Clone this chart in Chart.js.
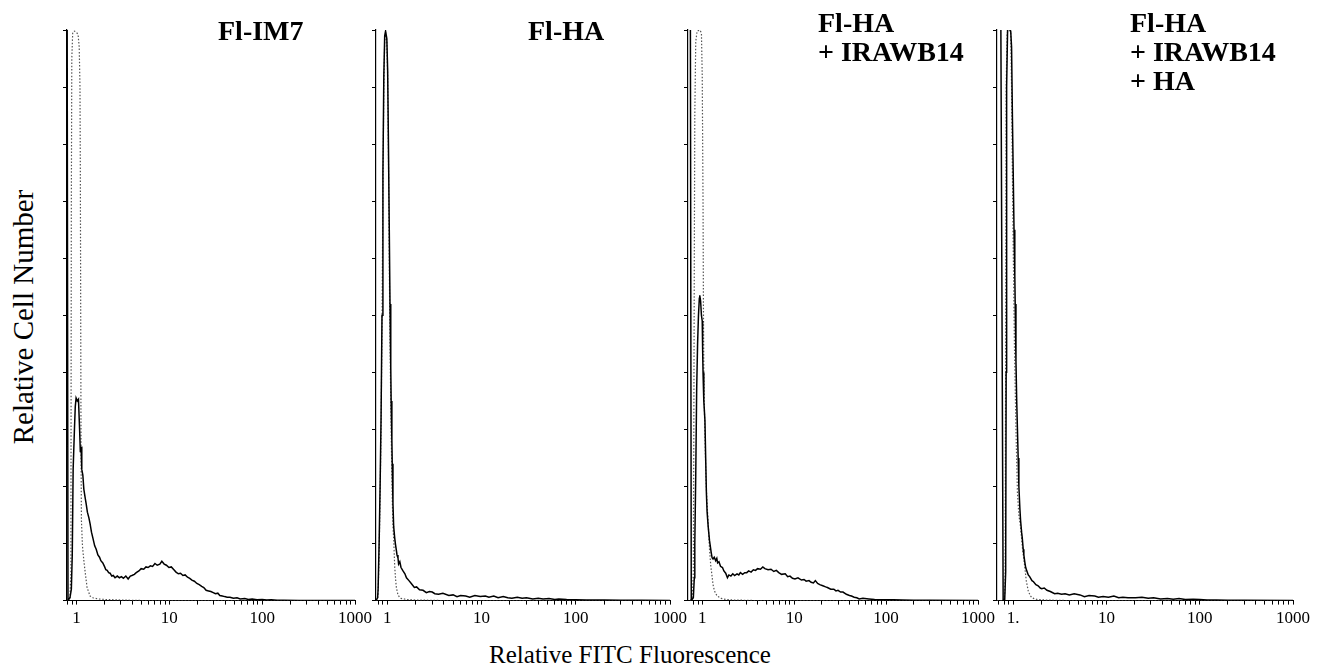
<!DOCTYPE html>
<html>
<head>
<meta charset="utf-8">
<script src="https://cdn.jsdelivr.net/npm/chart.js@4.4.1/dist/chart.umd.min.js"></script>
<style>
  body { margin: 0; background: #fff; }
  #wrap { position: relative; width: 1325px; height: 671px; overflow: hidden; background: #fff;
          font-family: "Liberation Serif", "Times New Roman", serif; color: #000; }
  #wrap canvas { position: absolute; top: 0; }
  .title { position: absolute; font-weight: bold; font-size: 28px; line-height: 29px; white-space: pre; }
  .axis-title { position: absolute; line-height: 30px; white-space: nowrap; text-align: center; }
</style>
</head>
<body>
<div id="wrap">
  <div class="axis-title" id="ytitle" style="left:-177px; top:302px; width:400px; font-size:29px; transform:rotate(-90deg);">Relative Cell Number</div>
  <div class="axis-title" id="xtitle" style="left:430px; top:640px; width:400px; font-size:25px;">Relative FITC Fluorescence</div>
</div>
<script>
// x-axis labels per panel (decades 1, 10, 100, 1000)
const decades = [1, 10, 100, 1000];
const tickLabels = [
  ['1', '10', '100', '1000'],
  ['1', '10', '100', '1000'],
  ['1', '10', '100', '1000'],
  ['1.', '10', '100', '1000']
];
const panelTitles = [
  ['Fl-IM7'],
  ['Fl-HA'],
  ['Fl-HA', '+ IRAWB14'],
  ['Fl-HA', '+ IRAWB14', '+ HA']
];

// histograms: [fluorescence, relative cell number]
const p1Solid = [[0.79,120],[0.81,0],[0.85,0.5],[0.88,2],[0.9,8],[0.92,23],[0.95,30],[0.97,34],[0.99,35.5],[1.02,35],[1.05,35.3],[1.08,30],[1.1,26],[1.12,27],[1.14,23],[1.17,22],[1.2,19.5],[1.24,18],[1.27,17],[1.31,15.5],[1.36,14.5],[1.4,13.5],[1.45,12],[1.5,11],[1.57,9.6],[1.63,9],[1.7,8],[1.77,7.6],[1.83,7],[1.92,6.6],[2.0,6],[2.07,5.4],[2.14,5.3],[2.22,4.9],[2.3,4.8],[2.4,4.3],[2.49,4.4],[2.6,4.0],[2.75,4.3],[2.9,4.0],[3.05,4.2],[3.2,3.9],[3.4,4.3],[3.6,3.8],[3.8,4.3],[3.95,4.4],[4.2,4.6],[4.4,4.9],[4.7,5.2],[4.97,5.6],[5.3,5.5],[5.6,5.9],[5.9,5.8],[6.25,6.1],[6.6,6.0],[7.0,6.5],[7.4,6.2],[7.9,6.4],[8.3,6.9],[8.8,6.4],[9.3,6.2],[9.9,5.8],[10.5,5.9],[11.2,5.4],[11.8,5.0],[12.5,4.7],[13.2,4.8],[14,4.4],[14.8,4.5],[15.7,4.1],[16.6,3.9],[17.5,3.6],[18.6,3.4],[19.8,3.0],[21,2.8],[22.3,2.5],[23.5,2.3],[24.9,1.8],[26.5,1.7],[28,1.6],[29.7,1.4],[31.4,1.2],[33.3,1.3],[35,0.9],[37.2,0.8],[39.4,0.7],[42,0.6],[45,0.6],[49,0.4],[53.6,0.5],[58,0.3],[65,0.35],[71,0.2],[78,0.3],[88,0.15],[100,0.2],[112,0.1],[125,0.15],[145,0.05],[170,0.05],[250,0],[1000,0]];
const p1Dotted = [[0.79,0],[0.85,0.5],[0.87,5],[0.875,40],[0.88,70],[0.89,95],[0.91,99.5],[0.95,99.8],[1.0,99.6],[1.04,99.2],[1.07,97],[1.09,90],[1.1,75],[1.11,50],[1.12,25],[1.13,14],[1.16,9.5],[1.2,7],[1.25,4.5],[1.3,2.3],[1.4,0.8],[1.5,0.5],[1.7,0.3],[2,0.2],[2.5,0.15],[3,0.1],[4,0.05],[6,0],[1000,0]];

const p2Solid = [[0.76,0],[0.79,0.5],[0.8,2],[0.82,10],[0.84,20],[0.86,32],[0.88,50],[0.9,75],[0.92,92],[0.94,99],[0.96,99.8],[0.99,98.5],[1.01,93],[1.03,80],[1.05,66],[1.07,52],[1.09,41],[1.1,35],[1.12,28],[1.13,24],[1.15,17],[1.17,13],[1.2,11],[1.22,10],[1.25,8.8],[1.27,8],[1.3,7.5],[1.32,6.4],[1.36,6.8],[1.4,5.8],[1.47,5.2],[1.54,4.7],[1.6,4.0],[1.7,3.5],[1.8,3.0],[1.94,2.3],[2.05,2.4],[2.2,1.9],[2.4,1.8],[2.6,1.4],[2.8,1.6],[3.0,1.5],[3.2,1.2],[3.5,1.1],[3.9,1.3],[4.5,0.9],[5,1.0],[5.5,0.7],[6,0.9],[6.8,0.8],[7.5,0.6],[8.5,0.9],[9.7,0.7],[11,0.8],[12,0.6],[13.5,0.8],[15,0.5],[17,0.7],[19,0.5],[21,0.4],[24,0.6],[27,0.4],[30,0.5],[35,0.3],[40,0.4],[45,0.3],[52,0.35],[60,0.2],[66,0.3],[80,0.2],[100,0.15],[130,0.1],[200,0.1],[300,0.05],[500,0.05],[1000,0]];
const p2Dotted = [[0.76,0],[0.79,0.3],[0.8,1],[0.82,8],[0.84,18],[0.86,30],[0.88,48],[0.9,72],[0.92,90],[0.94,98],[0.96,99.5],[0.99,98],[1.01,92],[1.03,78],[1.05,60],[1.07,45],[1.09,35],[1.1,30],[1.12,22],[1.13,18],[1.15,13],[1.17,11],[1.2,6],[1.23,3.5],[1.25,2.3],[1.28,1.5],[1.3,1],[1.35,0.6],[1.4,0.4],[1.6,0.2],[2,0.1],[3,0.05],[4,0],[1000,0]];

const p3Solid = [[0.74,120],[0.76,0],[0.8,0.5],[0.82,4],[0.83,10],[0.85,22],[0.87,37],[0.89,45],[0.91,50],[0.93,53],[0.94,53.5],[0.96,52.5],[0.98,50],[1.0,49],[1.01,44],[1.02,40],[1.04,35],[1.07,31.6],[1.09,25],[1.11,18.8],[1.13,15.5],[1.16,13],[1.2,10.5],[1.25,8.5],[1.28,7.5],[1.31,7.3],[1.35,7.6],[1.4,7.0],[1.44,7.4],[1.47,6.6],[1.52,6.8],[1.58,6.0],[1.66,5.8],[1.72,5.2],[1.8,4.8],[1.88,4.0],[1.95,4.5],[2.05,4.3],[2.15,4.7],[2.25,4.4],[2.39,4.7],[2.5,4.5],[2.6,4.9],[2.75,4.6],[2.9,4.9],[3.05,4.9],[3.2,5.2],[3.4,5.0],[3.6,5.4],[3.8,5.3],[4.0,5.6],[4.3,5.5],[4.56,5.9],[4.8,5.6],[5.2,5.4],[5.6,5.5],[6.0,5.1],[6.4,5.3],[6.8,4.9],[7.3,4.6],[8,4.7],[8.5,4.2],[9,4.3],[9.6,3.9],[10.2,3.8],[11,4.0],[12,3.6],[12.8,3.7],[13.5,3.4],[14.5,3.5],[15.3,3.2],[16.2,3.1],[17,3.5],[18,3.0],[19,2.8],[20.5,2.6],[22,2.4],[23,2.3],[25,2.0],[27,2.0],[28.5,1.7],[30,1.8],[32,1.5],[34,1.5],[37,1.1],[40,0.9],[42,0.8],[45,0.6],[48,0.5],[51,0.3],[56,0.4],[65,0.3],[75,0.2],[91,0.15],[120,0.15],[150,0.1],[200,0.05],[300,0.05],[1000,0]];
const p3Dotted = [[0.74,0],[0.78,0.5],[0.8,5],[0.81,30],[0.82,60],[0.83,85],[0.85,98],[0.88,99.8],[0.94,100],[0.98,99.5],[1.0,92],[1.02,70],[1.03,52],[1.04,40],[1.06,32],[1.08,26],[1.1,21],[1.12,18],[1.156,14],[1.2,9],[1.24,6],[1.27,4.7],[1.31,2.8],[1.357,1.7],[1.45,0.8],[1.6,0.4],[1.8,0.2],[2.2,0.1],[3,0.05],[4,0],[1000,0]];

const p4Solid = [[0.67,130],[0.725,130],[0.78,0],[0.81,0],[0.83,5],[0.84,40],[0.85,90],[0.87,100],[0.9,100.5],[0.94,99.8],[0.96,97],[0.98,85],[1.0,75],[1.02,65],[1.04,57],[1.05,52],[1.07,42],[1.09,35],[1.11,30],[1.13,25],[1.15,20],[1.18,16],[1.2,14],[1.23,12],[1.25,11],[1.28,9],[1.3,8],[1.33,6.8],[1.36,5.8],[1.4,5.2],[1.45,4.5],[1.5,4.2],[1.59,3.5],[1.65,3.3],[1.75,2.8],[1.85,2.6],[1.95,2.2],[2.02,2.1],[2.15,2.2],[2.3,1.8],[2.5,1.6],[2.78,1.2],[3.0,1.3],[3.3,1.1],[3.6,1.2],[4,1.0],[4.5,1.2],[5.2,1.0],[5.8,0.7],[6.5,0.9],[7.5,0.8],[8.2,0.6],[9.2,0.7],[10.5,0.6],[12,0.8],[13.5,0.5],[15,0.6],[17,0.5],[20.5,0.5],[24,0.6],[28,0.4],[32,0.5],[38,0.3],[45,0.35],[52,0.25],[60,0.35],[70,0.2],[85,0.25],[100,0.2],[120,0.1],[150,0.1],[200,0.05],[300,0.05],[1000,0]];
const p4Dotted = [[0.67,0],[0.78,0],[0.81,1],[0.82,5],[0.83,45],[0.84,90],[0.86,99.5],[0.9,100],[0.94,99.5],[0.96,90],[0.98,75],[1.0,62],[1.03,45],[1.07,30],[1.11,18.8],[1.15,15],[1.2,12.8],[1.26,9],[1.32,6.4],[1.38,3.5],[1.45,1.7],[1.52,0.9],[1.59,0.5],[1.7,0.3],[1.8,0.2],[2.2,0.1],[3,0.05],[4,0],[1000,0]];

const solidSeries = [p1Solid, p2Solid, p3Solid, p4Solid];
const dottedSeries = [p1Dotted, p2Dotted, p3Dotted, p4Dotted];

// panel geometry (pixels in the page)
const TICK = 4;
const PAD_R = 28;
const frames = [
  { axisLeft: 67,  axisRight: 355,  xMin: 0.79, titleX: 218 },
  { axisLeft: 376, axisRight: 670,  xMin: 0.76, titleX: 528 },
  { axisLeft: 688, axisRight: 978,  xMin: 0.74, titleX: 818 },
  { axisLeft: 997, axisRight: 1293, xMin: 0.67, titleX: 1130 }
];

Chart.defaults.font.family = '"Liberation Serif", "Times New Roman", serif';
Chart.defaults.color = '#000';

const wrap = document.getElementById('wrap');

function logTicks(min, max) {
  const out = [];
  for (let e = -1; e <= 3; e++) {
    for (let m = 1; m <= 9; m++) {
      const v = m * Math.pow(10, e);
      if (v >= min - 1e-9 && v <= max + 1e-9) out.push({ value: v });
    }
  }
  return out;
}

const toPts = arr => arr.map(([x, y]) => ({ x, y }));

frames.forEach((f, i) => {
  const c = document.createElement('canvas');
  c.width = f.axisRight - f.axisLeft + TICK + PAD_R;
  c.height = 633;
  c.style.left = (f.axisLeft - TICK) + 'px';
  wrap.appendChild(c);

  const t = document.createElement('div');
  t.className = 'title';
  t.style.left = f.titleX + 'px';
  t.style.top = (panelTitles[i].length > 1 ? 8 : 16) + 'px';
  t.textContent = panelTitles[i].join('\n');
  wrap.appendChild(t);

  new Chart(c, {
    type: 'line',
    data: {
      datasets: [
        { data: toPts(solidSeries[i]), borderColor: '#000', borderWidth: 1.5, pointRadius: 0, tension: 0, order: 0 },
        { data: toPts(dottedSeries[i]), borderColor: '#555', borderWidth: 1.2, borderDash: [1.5, 1.8], pointRadius: 0, tension: 0, order: 1 }
      ]
    },
    options: {
      responsive: false,
      animation: false,
      events: [],
      layout: { padding: { top: 30, right: PAD_R, left: 0, bottom: 0 } },
      plugins: { legend: { display: false }, tooltip: { enabled: false } },
      scales: {
        x: {
          type: 'logarithmic',
          min: f.xMin,
          max: 1000,
          afterBuildTicks: s => { s.ticks = logTicks(f.xMin, 1000); },
          ticks: {
            autoSkip: false, maxRotation: 0, minRotation: 0, padding: 4,
            font: { size: 17 },
            callback: v => {
              const k = decades.findIndex(d => Math.abs(d - v) < 1e-6 * d);
              return k >= 0 ? tickLabels[i][k] : '';
            }
          },
          grid: { drawOnChartArea: false, drawTicks: true, tickLength: TICK, color: '#000', lineWidth: 1 },
          border: { color: '#000', width: 1 }
        },
        y: {
          min: 0,
          max: 100,
          ticks: { display: false, stepSize: 10 },
          grid: { drawOnChartArea: false, drawTicks: true, tickLength: TICK, color: '#000', lineWidth: 1 },
          border: { color: '#000', width: 1.2 }
        }
      }
    }
  });
});
</script>
</body>
</html>
